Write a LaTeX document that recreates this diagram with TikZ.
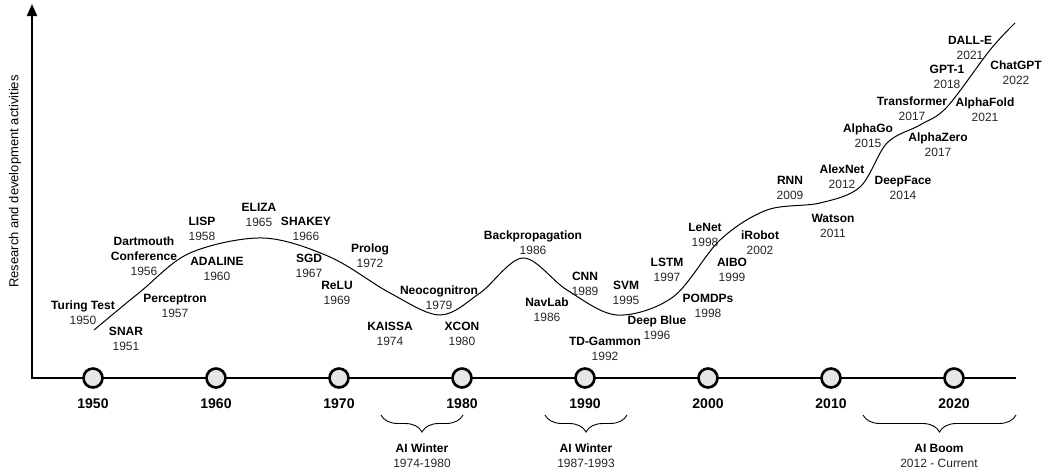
\documentclass[tikz,border=0pt]{standalone}
\usepackage{fontspec}
\setmainfont{Liberation Sans}
\usetikzlibrary{decorations.pathreplacing,arrows.meta}
\definecolor{yr}{HTML}{262626}
\definecolor{dotfill}{HTML}{E6E6E6}
\newcommand\ev[5]{\node[ev] (#1) at (#2,{#3+19.3}) {\textbf{#4}\\\textcolor{yr}{#5}};}
\begin{document}
\begin{tikzpicture}[x=1pt,y=-1pt,
  ev/.style={font=\fontsize{12}{15}\selectfont, align=center, anchor=base, inner sep=0pt},
  axyr/.style={font=\fontsize{14}{16}\selectfont\bfseries, anchor=base, inner sep=0pt},
  dot/.style={circle, draw, line width=2.6pt, fill=dotfill, minimum size=19pt, inner sep=0pt},
  axis/.style={line width=2pt},
  trend/.style={line width=1pt},
  era/.style={decorate, decoration={brace, mirror, amplitude=17pt}, line width=0.9pt}]
\useasboundingbox (0,0) rectangle (1042,471);
% axes
\coordinate (origin) at (32,378);
\coordinate (ytop) at (32,4);
\coordinate (xend) at (1016,378);
\draw[axis, {Triangle[length=12pt,width=10pt]}-] (ytop) -- (origin) -- (xend);
\node[rotate=90, font=\fontsize{13}{15}\selectfont, inner sep=0pt] (ylab) at (15,181.5) {Research and development activities};
% decade dots
\foreach \d [count=\i from 0] in {1950,1960,1970,1980,1990,2000,2010,2020} {
  \node[dot] (c\d) at ({93+123*\i},378) {};
  \node[axyr] (l\d) at ({93+123*\i},408) {\d};
}
% trend curve
\draw[trend] plot[smooth, tension=0.55] coordinates {
 (94,330) (140,292) (190,253) (263,238) (330,257) (390,293) (440,315) (480,293)
 (523,258) (567,290) (617,315) (673,297) (720,240) (767,210) (820,203) (860,187)
 (887,143) (920,125) (947,107) (990,50) (1015,23)};
% events
\ev{turing}{83}{305}{Turing Test}{1950}
\ev{snar}{126}{331}{SNAR}{1951}
\node[ev] (dart) at (144,{241+34.3}) {\textbf{Dartmouth}\\\textbf{Conference}\\\textcolor{yr}{1956}};
\ev{perc}{175}{298}{Perceptron}{1957}
\ev{lisp}{202}{221}{LISP}{1958}
\ev{adaline}{217}{261}{ADALINE}{1960}
\ev{eliza}{259}{207}{ELIZA}{1965}
\ev{shakey}{306}{221}{SHAKEY}{1966}
\ev{sgd}{309}{258}{SGD}{1967}
\ev{relu}{337}{285}{ReLU}{1969}
\ev{prolog}{370}{248}{Prolog}{1972}
\ev{kaissa}{390}{326}{KAISSA}{1974}
\ev{neo}{439}{290}{Neocognitron}{1979}
\ev{xcon}{462}{326}{XCON}{1980}
\ev{backprop}{533}{235}{Backpropagation}{1986}
\ev{navlab}{547}{302}{NavLab}{1986}
\ev{cnn}{585}{276}{CNN}{1989}
\ev{tdg}{605}{341}{TD-Gammon}{1992}
\ev{svm}{626}{285}{SVM}{1995}
\ev{deepblue}{657}{320}{Deep Blue}{1996}
\ev{lstm}{667}{262}{LSTM}{1997}
\ev{pomdp}{708}{298}{POMDPs}{1998}
\ev{lenet}{705}{227}{LeNet}{1998}
\ev{aibo}{732}{262}{AIBO}{1999}
\ev{irobot}{760}{235}{iRobot}{2002}
\ev{rnn}{790}{180}{RNN}{2009}
\ev{watson}{833}{218}{Watson}{2011}
\ev{alexnet}{842}{169}{AlexNet}{2012}
\ev{deepface}{903}{180}{DeepFace}{2014}
\ev{alphago}{868}{128}{AlphaGo}{2015}
\ev{alphazero}{938}{137}{AlphaZero}{2017}
\ev{transformer}{912}{101}{Transformer}{2017}
\ev{alphafold}{985}{102}{AlphaFold}{2021}
\ev{gpt}{947}{69}{GPT-1}{2018}
\ev{dalle}{970}{40}{DALL-E}{2021}
\ev{chatgpt}{1016}{65}{ChatGPT}{2022}
% eras
\coordinate (w1a) at (381,415); \coordinate (w1b) at (463,415);
\coordinate (w2a) at (545,415); \coordinate (w2b) at (627,415);
\coordinate (ba) at (863,415); \coordinate (bb) at (1016,415);
\draw[era] (w1a) -- (w1b);
\draw[era] (w2a) -- (w2b);
\draw[era] (ba) -- (bb);
\ev{winter1}{422}{448}{AI Winter}{1974-1980}
\ev{winter2}{586}{448}{AI Winter}{1987-1993}
\ev{boom}{939}{448}{AI Boom}{2012 - Current}
\end{tikzpicture}
\end{document}
